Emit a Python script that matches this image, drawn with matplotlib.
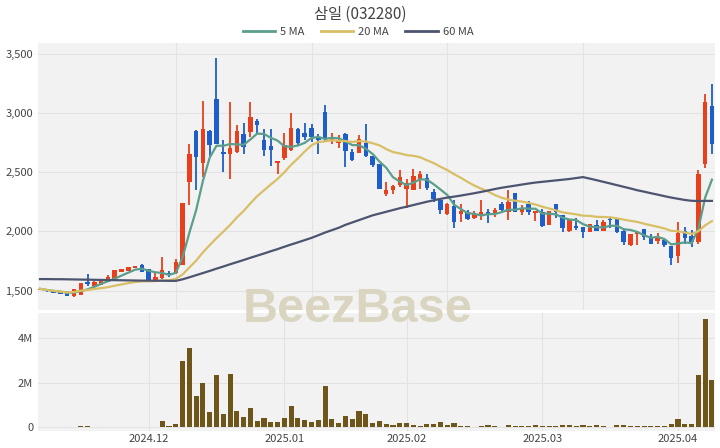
import matplotlib
matplotlib.use("Agg")
import matplotlib.pyplot as plt
import numpy as np
import pandas as pd
from matplotlib.lines import Line2D
from matplotlib.ticker import FuncFormatter

plt.rcParams['font.family'] = ['Noto Sans CJK KR', 'DejaVu Sans']

title = "삼일 (032280)"

# 한국 휴장일 (거래일 계산용)
holidays = ["2024-12-25", "2024-12-31", "2025-01-01", "2025-01-27", "2025-01-28",
            "2025-01-29", "2025-01-30", "2025-03-03"]
dates = pd.bdate_range("2024-11-08", "2025-04-08", freq="C", holidays=holidays)

opens = [1505, 1505, 1495, 1488, 1482, 1450, 1462, 1570, 1540, 1550,
         1572, 1595, 1660, 1668, 1693, 1720, 1680, 1583, 1605, 1648,
         1645, 1720, 2420, 2850, 2580, 2850, 3115, 2670, 2650, 2670,
         2825, 2840, 2930, 2770, 2720, 2575, 2615, 2685, 2860, 2830,
         2875, 2800, 3005, 2760, 2748, 2825, 2668, 2662, 2745, 2633,
         2570, 2315, 2350, 2390, 2355, 2350, 2440, 2450, 2333, 2262,
         2150, 2212, 2150, 2165, 2110, 2137, 2163, 2145, 2235, 2165,
         2322, 2165, 2235, 2155, 2165, 2052, 2229, 2135, 2000, 2044,
         2038, 1997, 2050, 2005, 2108, 2100, 2004, 1884, 1977, 2016,
         1953, 1920, 1931, 1875, 1791, 2004, 1960, 1912, 2572, 3055]
highs = [1518, 1508, 1497, 1490, 1485, 1512, 1568, 1640, 1578, 1586,
         1628, 1676, 1686, 1703, 1711, 1723, 1683, 1645, 1780, 1668,
         1770, 2242, 2740, 2855, 3100, 2855, 3460, 2770, 3090, 2895,
         2915, 3090, 2950, 2860, 2860, 2598, 2830, 3000, 2870, 2915,
         2910, 2825, 3065, 2830, 2815, 2830, 2698, 2810, 2910, 2640,
         2572, 2415, 2390, 2515, 2445, 2525, 2510, 2488, 2360, 2265,
         2240, 2263, 2235, 2180, 2170, 2263, 2187, 2200, 2245, 2347,
         2325, 2220, 2257, 2175, 2185, 2175, 2235, 2140, 2100, 2110,
         2040, 2065, 2094, 2094, 2110, 2105, 2010, 1980, 2000, 2024,
         1975, 1982, 1935, 1880, 2080, 2038, 2010, 2515, 3162, 3247]
lows = [1503, 1492, 1480, 1468, 1452, 1445, 1460, 1535, 1538, 1548,
        1570, 1592, 1657, 1665, 1690, 1655, 1588, 1580, 1595, 1612,
        1640, 1715, 2225, 2345, 2460, 2640, 2735, 2500, 2445, 2665,
        2655, 2800, 2825, 2635, 2550, 2480, 2600, 2680, 2730, 2770,
        2755, 2655, 2755, 2740, 2700, 2545, 2595, 2660, 2628, 2545,
        2358, 2297, 2315, 2375, 2195, 2345, 2355, 2347, 2250, 2145,
        2140, 2025, 2080, 2095, 2105, 2093, 2072, 2117, 2175, 2093,
        2160, 2137, 2137, 2088, 2040, 2050, 2110, 1995, 1995, 2010,
        1940, 1995, 2000, 2000, 2025, 1990, 1883, 1880, 1883, 1931,
        1893, 1897, 1869, 1715, 1735, 1897, 1870, 1897, 2538, 2650]
closes = [1515, 1495, 1483, 1470, 1455, 1510, 1565, 1552, 1575, 1583,
          1617, 1673, 1683, 1700, 1708, 1658, 1590, 1616, 1670, 1628,
          1745, 2240, 2655, 2625, 2865, 2730, 2740, 2650, 2700, 2850,
          2715, 2965, 2895, 2685, 2690, 2595, 2725, 2870, 2745, 2800,
          2800, 2770, 2785, 2795, 2775, 2680, 2605, 2783, 2640, 2560,
          2360, 2345, 2380, 2460, 2405, 2465, 2488, 2362, 2270, 2180,
          2235, 2080, 2175, 2100, 2150, 2163, 2137, 2179, 2180, 2250,
          2165, 2200, 2165, 2172, 2045, 2170, 2165, 2025, 2093, 2025,
          1997, 2058, 2005, 2080, 2095, 1997, 1912, 1975, 1996, 1953,
          1897, 1945, 1884, 1771, 1987, 1948, 1912, 2488, 3092, 2741]
volumes = [0.01, 0.01, 0.01, 0.01, 0.02, 0.02, 0.05, 0.03, 0.02, 0.02,
           0.01, 0.02, 0.02, 0.01, 0.02, 0.02, 0.01, 0.02, 0.28, 0.03,
           0.12, 2.97, 3.55, 1.40, 2.00, 0.67, 2.34, 0.59, 2.38, 0.73,
           0.45, 0.86, 0.27, 0.39, 0.24, 0.24, 0.39, 0.94, 0.42, 0.33,
           0.24, 0.33, 1.84, 0.36, 0.18, 0.48, 0.36, 0.70, 0.57, 0.18,
           0.27, 0.12, 0.08, 0.18, 0.20, 0.08, 0.06, 0.12, 0.12, 0.21,
           0.09, 0.18, 0.06, 0.03, 0.02, 0.05, 0.08, 0.05, 0.02, 0.09,
           0.05, 0.03, 0.03, 0.08, 0.06, 0.06, 0.03, 0.09, 0.09, 0.06,
           0.08, 0.03, 0.11, 0.05, 0.02, 0.08, 0.09, 0.05, 0.05, 0.05,
           0.05, 0.05, 0.05, 0.15, 0.35, 0.14, 0.12, 2.35, 4.86, 2.14]
# 60일 이동평균
ma60 = [1597, 1597, 1596, 1596, 1595, 1594, 1593, 1592, 1591, 1590,
        1589, 1588, 1587, 1586, 1585, 1584, 1584, 1583, 1583, 1582,
        1582, 1595, 1612, 1630, 1648, 1666, 1685, 1703, 1722, 1740,
        1758, 1777, 1795, 1813, 1832, 1850, 1870, 1889, 1907, 1926,
        1945, 1967, 1990, 2010, 2030, 2055, 2075, 2095, 2115, 2135,
        2150, 2165, 2180, 2195, 2208, 2222, 2236, 2250, 2262, 2274,
        2285, 2293, 2302, 2312, 2322, 2333, 2345, 2357, 2368, 2377,
        2386, 2395, 2404, 2412, 2418, 2424, 2430, 2436, 2442, 2450,
        2458, 2445, 2432, 2418, 2404, 2390, 2376, 2362, 2347, 2335,
        2322, 2310, 2297, 2285, 2275, 2265, 2258, 2256, 2257, 2257]

UP = "#E8401C"
DOWN = "#1F5DC8"
VOL = "#6E561A"
MA5_C = "#5A9E8C"
MA20_C = "#D8BF66"
MA60_C = "#4D5470"
BG = "#F2F2F2"
GRID = "#E3E3E3"

df = pd.DataFrame({"open": opens, "high": highs, "low": lows, "close": closes,
                   "volume": np.array(volumes) * 1e6, "ma60": ma60}, index=dates)
df["ma5"] = df["close"].rolling(5, min_periods=1).mean()
df["ma20"] = df["close"].rolling(20, min_periods=1).mean()
x = np.arange(len(df))

fig = plt.figure(figsize=(7.2, 4.48), dpi=100)
ax = fig.add_axes([38 / 720, 1 - 310 / 448, 677 / 720, 267 / 448])
axv = fig.add_axes([38 / 720, 1 - 431 / 448, 677 / 720, 118 / 448])

for a in (ax, axv):
    a.set_facecolor(BG)
    for s in a.spines.values():
        s.set_visible(False)
    a.tick_params(length=0, labelsize=8, colors="#444444")
    a.set_axisbelow(True)
    a.set_xlim(-0.3, len(df) - 0.55)

# 캔들
up = df["close"] >= df["open"]
colors = np.where(up, UP, DOWN)
body_lo = np.minimum(df["open"], df["close"])
body_h = np.maximum(np.abs(df["close"] - df["open"]), 8)
ax.vlines(x, df["low"], df["high"], colors=colors, linewidth=1.3, zorder=2)
ax.bar(x, body_h, bottom=body_lo, width=0.66, color=colors, linewidth=0, zorder=3)

ax.plot(x, df["ma5"], color=MA5_C, linewidth=1.6, zorder=4)
ax.plot(x, df["ma20"], color=MA20_C, linewidth=1.6, zorder=4)
ax.plot(x, df["ma60"], color=MA60_C, linewidth=1.6, zorder=4)

ax.set_ylim(1336, 3590)
ax.set_yticks([1500, 2000, 2500, 3000, 3500])
ax.yaxis.set_major_formatter(FuncFormatter(lambda v, p: f"{int(v):,}"))
ax.set_xticks([20, 40, 60, 80])
ax.set_xticklabels([])
ax.grid(True, color=GRID, linewidth=0.8)

# 거래량
axv.bar(x, df["volume"], width=0.75, color=VOL, linewidth=0)
axv.set_ylim(-0.18e6, 5.14e6)
axv.set_yticks([0, 2e6, 4e6])
axv.set_yticklabels(["0", "2M", "4M"])
month_idx = [i for i in range(1, len(df)) if dates[i].month != dates[i - 1].month]
axv.set_xticks(month_idx)
axv.set_xticklabels([dates[i].strftime("%Y.%m") for i in month_idx])
axv.tick_params(axis="x", pad=2)
axv.grid(True, color=GRID, linewidth=0.8)

fig.text(0.5, 1 - 14 / 448, title, ha="center", va="center", fontsize=11, color="#444444")
handles = [Line2D([], [], color=MA5_C, linewidth=2),
           Line2D([], [], color=MA20_C, linewidth=2),
           Line2D([], [], color=MA60_C, linewidth=2)]
fig.legend(handles, ["5 MA", "20 MA", "60 MA"], loc="center", bbox_to_anchor=(0.497, 1 - 32 / 448),
           ncol=3, frameon=False, fontsize=8, handlelength=2.9, columnspacing=1.5,
           handletextpad=0.45, labelcolor="#444444")

fig.text(358 / 720, 1 - 310 / 448, "BeezBase", ha="center", va="center", fontsize=35,
         fontweight="bold", family="Liberation Sans", color="#DAD5C0", zorder=1)

fig.savefig("out.png", dpi=100)
